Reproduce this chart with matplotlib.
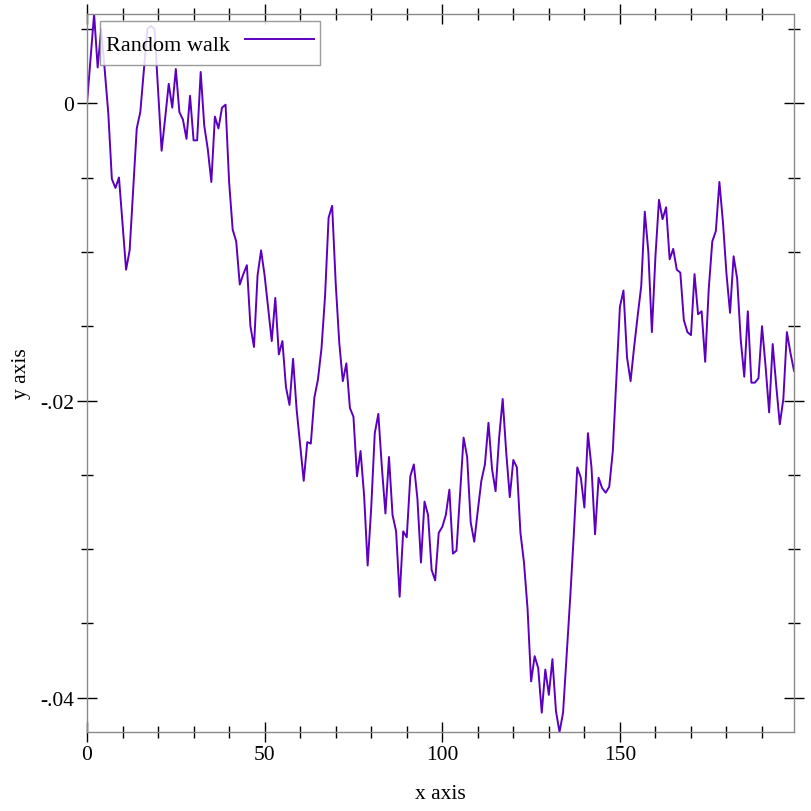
import matplotlib
matplotlib.use("Agg")
import matplotlib.pyplot as plt
import numpy as np

plt.rcParams['font.family'] = ['Liberation Serif', 'DejaVu Serif']

# Random walk values, one per step (x = 0 .. 199)
walk_values = [
    0.0000, 0.0030, 0.0060, 0.0024, 0.0050, 0.0022, -0.0007, -0.0051, -0.0057, -0.0050,
    -0.0081, -0.0112, -0.0099, -0.0058, -0.0017, -0.0006, 0.0022, 0.0050, 0.0052, 0.0050,
    0.0009, -0.0032, -0.0010, 0.0013, -0.0003, 0.0023, -0.0006, -0.0011, -0.0024, 0.0005,
    -0.0025, -0.0025, 0.0021, -0.0015, -0.0031, -0.0053, -0.0009, -0.0017, -0.0003, -0.0001,
    -0.0053, -0.0085, -0.0093, -0.0122, -0.0115, -0.0109, -0.0150, -0.0164, -0.0116, -0.0099,
    -0.0116, -0.0138, -0.0160, -0.0131, -0.0169, -0.0160, -0.0191, -0.0203, -0.0172, -0.0206,
    -0.0230, -0.0254, -0.0228, -0.0229, -0.0198, -0.0186, -0.0165, -0.0130, -0.0077, -0.0069,
    -0.0121, -0.0161, -0.0187, -0.0175, -0.0205, -0.0211, -0.0251, -0.0234, -0.0264, -0.0311,
    -0.0272, -0.0222, -0.0209, -0.0245, -0.0276, -0.0238, -0.0277, -0.0288, -0.0332, -0.0288,
    -0.0292, -0.0251, -0.0243, -0.0266, -0.0309, -0.0268, -0.0277, -0.0314, -0.0321, -0.0289,
    -0.0285, -0.0277, -0.0260, -0.0303, -0.0301, -0.0263, -0.0225, -0.0238, -0.0282, -0.0295,
    -0.0274, -0.0254, -0.0243, -0.0215, -0.0246, -0.0261, -0.0225, -0.0199, -0.0235, -0.0265,
    -0.0240, -0.0245, -0.0289, -0.0309, -0.0340, -0.0389, -0.0372, -0.0380, -0.0410, -0.0381,
    -0.0398, -0.0374, -0.0409, -0.0423, -0.0410, -0.0371, -0.0333, -0.0291, -0.0245, -0.0252,
    -0.0272, -0.0222, -0.0245, -0.0290, -0.0252, -0.0259, -0.0262, -0.0258, -0.0234, -0.0186,
    -0.0137, -0.0126, -0.0171, -0.0187, -0.0164, -0.0143, -0.0123, -0.0073, -0.0100, -0.0154,
    -0.0103, -0.0065, -0.0078, -0.0070, -0.0105, -0.0098, -0.0112, -0.0114, -0.0146, -0.0154,
    -0.0156, -0.0115, -0.0142, -0.0140, -0.0174, -0.0125, -0.0093, -0.0086, -0.0053, -0.0080,
    -0.0115, -0.0141, -0.0103, -0.0118, -0.0159, -0.0184, -0.0140, -0.0188, -0.0188, -0.0185,
    -0.0150, -0.0177, -0.0208, -0.0162, -0.0190, -0.0216, -0.0199, -0.0154, -0.0168, -0.0180,
]
steps = list(range(len(walk_values)))

x_major_ticks = [0, 50, 100, 150]
y_major_ticks = [0.0, -0.02, -0.04]
y_major_labels = ["0", "-.02", "-.04"]
series_label = "Random walk"
x_label = "x axis"
y_label = "y axis"

W = 812
fig = plt.figure(figsize=(8.12, 8.12), dpi=100)
ax = fig.add_axes([87 / W, 1 - 733 / W, (794 - 87) / W, (733 - 15) / W])

ax.plot(steps, walk_values, color='#5c00c0', lw=1.4, label=series_label)

ax.set_xlim(min(steps), max(steps))
ax.set_ylim(min(walk_values), max(walk_values))

ax.set_xticks(x_major_ticks)
ax.set_xticks(np.arange(0, max(steps) + 1, 10), minor=True)
ax.set_yticks(y_major_ticks)
ax.set_yticklabels(y_major_labels)
ax.set_yticks(np.arange(0.005, min(walk_values), -0.005), minor=True)

for s in ax.spines.values():
    s.set_color('#8a8a8a')
    s.set_linewidth(1.0)

ax.tick_params(which='both', direction='inout', top=True, right=True,
               color='black', width=1.0, labelsize=15.5)
ax.tick_params(which='major', length=15, pad=2)
ax.tick_params(which='minor', length=8)

ax.set_xlabel(x_label, fontsize=15.5, labelpad=14)
ax.set_ylabel(y_label, fontsize=15.5, labelpad=6)

leg = ax.legend(loc='upper left', markerfirst=False, fontsize=16,
                handlelength=3.1, handleheight=1.75, handletextpad=0.65,
                borderpad=0.3,
                fancybox=False, framealpha=0.85, edgecolor='#8a8a8a',
                bbox_to_anchor=(0.018, 0.99), borderaxespad=0)
leg.get_frame().set_linewidth(1.0)

fig.savefig('out.png', dpi=100)
